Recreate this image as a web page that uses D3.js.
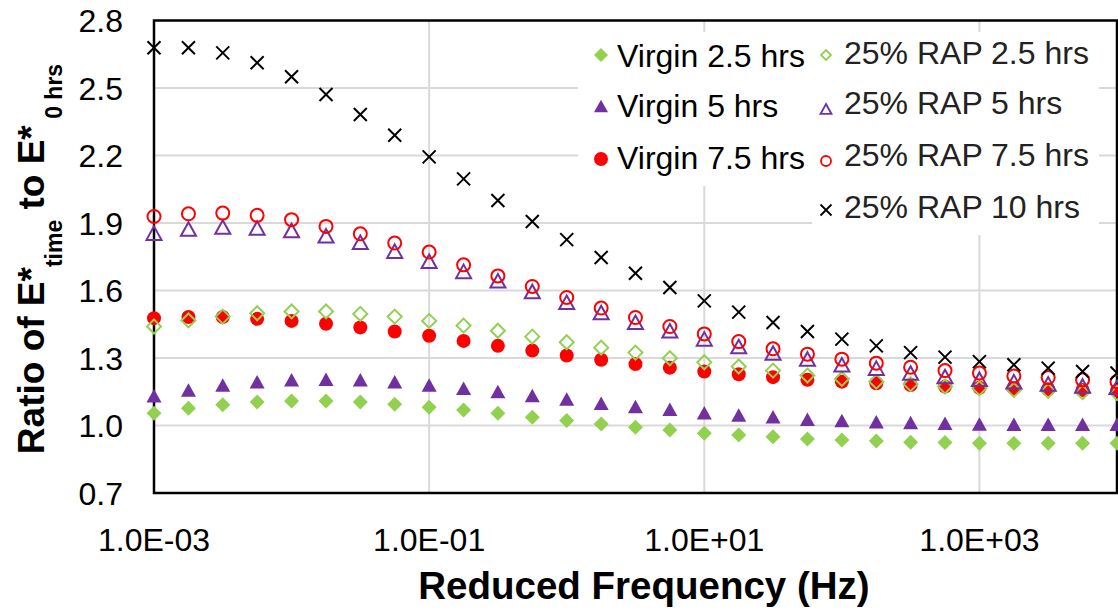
<!DOCTYPE html>
<html>
<head>
<meta charset="utf-8">
<script src="https://cdn.jsdelivr.net/npm/d3@7"></script>
<style>
  body { margin: 0; background: #fff; }
  text { font-family: "Liberation Sans", Arial, sans-serif; }
</style>
</head>
<body>
<svg id="chart"></svg>
<script>
// reduced frequency (Hz), quarter-decade steps
const freqs = [0.001, 0.00178, 0.00316, 0.00562, 0.01, 0.0178, 0.0316, 0.0562, 0.1, 0.178, 0.316, 0.562,
  1, 1.78, 3.16, 5.62, 10, 17.8, 31.6, 56.2, 100, 178, 316, 562, 1000, 1780, 3160, 5620, 10000];

const virgin25 = [1.055, 1.077, 1.092, 1.104, 1.109, 1.109, 1.104, 1.095, 1.081, 1.069, 1.055, 1.037, 1.022, 1.007,
  0.992, 0.980, 0.966, 0.958, 0.950, 0.940, 0.936, 0.931, 0.926, 0.924, 0.921, 0.921, 0.921, 0.921, 0.921];
const virgin5 = [1.132, 1.158, 1.180, 1.195, 1.203, 1.206, 1.203, 1.195, 1.180, 1.166, 1.151, 1.133, 1.118, 1.099,
  1.084, 1.072, 1.057, 1.047, 1.039, 1.028, 1.022, 1.017, 1.013, 1.010, 1.007, 1.006, 1.006, 1.006, 1.006];
const virgin75 = [1.477, 1.482, 1.482, 1.474, 1.465, 1.452, 1.436, 1.418, 1.399, 1.376, 1.354, 1.333, 1.311, 1.292,
  1.273, 1.257, 1.240, 1.228, 1.215, 1.203, 1.195, 1.188, 1.180, 1.173, 1.168, 1.166, 1.161, 1.158, 1.155];
const rap25 = [1.440, 1.467, 1.484, 1.499, 1.507, 1.507, 1.496, 1.484, 1.465, 1.444, 1.421, 1.395, 1.370, 1.346,
  1.324, 1.299, 1.281, 1.262, 1.244, 1.222, 1.207, 1.195, 1.184, 1.173, 1.166, 1.158, 1.154, 1.148, 1.144];
const rap5 = [1.855, 1.873, 1.882, 1.878, 1.867, 1.843, 1.814, 1.775, 1.730, 1.685, 1.643, 1.596, 1.548, 1.502,
  1.459, 1.421, 1.385, 1.351, 1.322, 1.296, 1.270, 1.255, 1.233, 1.218, 1.206, 1.195, 1.185, 1.176, 1.170];
const rap75 = [1.929, 1.941, 1.944, 1.934, 1.915, 1.885, 1.852, 1.811, 1.771, 1.714, 1.665, 1.618, 1.569, 1.522,
  1.480, 1.440, 1.407, 1.373, 1.341, 1.317, 1.295, 1.277, 1.259, 1.244, 1.233, 1.220, 1.213, 1.203, 1.195];
const rap10 = [2.679, 2.679, 2.656, 2.612, 2.550, 2.471, 2.382, 2.290, 2.194, 2.096, 2.000, 1.907, 1.826, 1.747,
  1.677, 1.613, 1.554, 1.504, 1.458, 1.418, 1.384, 1.354, 1.324, 1.304, 1.284, 1.270, 1.255, 1.240, 1.233];

const yTicks = [0.7, 1.0, 1.3, 1.6, 1.9, 2.2, 2.5, 2.8];
const xTicks = [0.001, 0.1, 10, 1000];
const xTickLabels = ["1.0E-03", "1.0E-01", "1.0E+01", "1.0E+03"];

const seriesNames = ["Virgin 2.5 hrs", "Virgin 5 hrs", "Virgin 7.5 hrs",
  "25% RAP 2.5 hrs", "25% RAP 5 hrs", "25% RAP 7.5 hrs", "25% RAP 10 hrs"];
const seriesValues = [virgin25, virgin5, virgin75, rap25, rap5, rap75, rap10];

const green = "#92D050", purple = "#7030A0", red = "#FF0000";

// marker shapes (size = half width)
const diamond = { draw(ctx, r) { ctx.moveTo(0, -r); ctx.lineTo(r, 0); ctx.lineTo(0, r); ctx.lineTo(-r, 0); ctx.closePath(); } };
const triangle = { draw(ctx, r) { const h = r * 0.9; ctx.moveTo(0, -h); ctx.lineTo(r, h); ctx.lineTo(-r, h); ctx.closePath(); } };
const circle = { draw(ctx, r) { ctx.moveTo(r, 0); ctx.arc(0, 0, r, 0, 2 * Math.PI); } };
const cross = { draw(ctx, r) { ctx.moveTo(-r, -r); ctx.lineTo(r, r); ctx.moveTo(r, -r); ctx.lineTo(-r, r); } };

const styles = [
  { type: diamond, r: 7.5, fill: green, stroke: "none", lr: 7 },
  { type: triangle, r: 7.5, fill: purple, stroke: "none", lr: 7 },
  { type: circle, r: 7, fill: red, stroke: "none", lr: 7 },
  { type: diamond, r: 7, fill: "none", stroke: green, lr: 5 },
  { type: triangle, r: 7.5, fill: "none", stroke: purple, lr: 5.5 },
  { type: circle, r: 6.5, fill: "none", stroke: red, lr: 5 },
  { type: cross, r: 6.5, fill: "none", stroke: "#000", lr: 5.5 }
];

const width = 1118, height = 613;
const svg = d3.select("#chart").attr("width", width).attr("height", height);

const x = d3.scaleLog().domain([0.001, 10000]).range([154, 1117]);
const y = d3.scaleLinear().domain([0.7, 2.8]).range([493, 20.5]);

// gridlines
svg.append("g")
  .selectAll("line")
  .data(yTicks.slice(1, -1))
  .join("line")
  .attr("x1", x.range()[0]).attr("x2", x.range()[1])
  .attr("y1", d => y(d)).attr("y2", d => y(d))
  .attr("stroke", "#d9d9d9").attr("stroke-width", 2);

svg.append("g")
  .selectAll("line")
  .data(xTicks.slice(1))
  .join("line")
  .attr("x1", d => x(d)).attr("x2", d => x(d))
  .attr("y1", y.range()[0]).attr("y2", y.range()[1])
  .attr("stroke", "#d9d9d9").attr("stroke-width", 2);

// plot border
svg.append("rect")
  .attr("x", x.range()[0]).attr("y", y.range()[1])
  .attr("width", x.range()[1] - x.range()[0])
  .attr("height", y.range()[0] - y.range()[1])
  .attr("fill", "none").attr("stroke", "#000").attr("stroke-width", 2.5);

// tick labels
svg.append("g")
  .selectAll("text")
  .data(yTicks)
  .join("text")
  .attr("x", 123).attr("y", d => y(d) + 11.5)
  .attr("text-anchor", "end")
  .style("font-size", "32px")
  .text(d => d.toFixed(1));

svg.append("g")
  .selectAll("text")
  .data(xTicks)
  .join("text")
  .attr("x", d => x(d)).attr("y", 551)
  .attr("text-anchor", "middle")
  .style("font-size", "32px")
  .text((d, i) => xTickLabels[i]);

// axis titles
svg.append("text")
  .attr("x", 644).attr("y", 599)
  .attr("text-anchor", "middle")
  .style("font-size", "38.5px").style("font-weight", "bold")
  .text("Reduced Frequency (Hz)");

const yTitle = svg.append("text")
  .attr("transform", "translate(44,259) rotate(-90)")
  .attr("text-anchor", "middle")
  .style("font-size", "37px").style("font-weight", "bold");
yTitle.append("tspan").text("Ratio of E*");
yTitle.append("tspan").attr("dy", 18).style("font-size", "23px").text("time");
yTitle.append("tspan").attr("dy", -18).text(" to E*");
yTitle.append("tspan").attr("dy", 18).style("font-size", "23px").text(" 0 hrs");

// legend backgrounds
svg.append("rect").attr("x", 578).attr("y", 32).attr("width", 240).attr("height", 154).attr("fill", "#fff");
svg.append("rect").attr("x", 812).attr("y", 32).attr("width", 287).attr("height", 203).attr("fill", "#fff");

// markers
seriesValues.forEach((vals, s) => {
  const st = styles[s];
  svg.append("g")
    .selectAll("path")
    .data(vals.map((v, i) => [freqs[i], v]))
    .join("path")
    .attr("transform", d => `translate(${x(d[0])},${y(d[1])})`)
    .attr("d", d3.symbol().type(st.type).size(st.r))
    .attr("fill", st.fill)
    .attr("stroke", st.stroke)
    .attr("stroke-width", 2);
});

// legend
const legendPos = [
  { mx: 601, my: 55, tx: 617, ty: 67 },
  { mx: 601, my: 106, tx: 617, ty: 117 },
  { mx: 601, my: 159, tx: 617, ty: 169 },
  { mx: 826, my: 55, tx: 844, ty: 64 },
  { mx: 826, my: 109, tx: 844, ty: 114 },
  { mx: 826, my: 161, tx: 844, ty: 166 },
  { mx: 826, my: 210, tx: 844, ty: 218 }
];

const legend = svg.append("g");
seriesNames.forEach((name, s) => {
  const st = styles[s], p = legendPos[s];
  legend.append("path")
    .attr("transform", `translate(${p.mx},${p.my})`)
    .attr("d", d3.symbol().type(st.type).size(st.lr))
    .attr("fill", st.fill)
    .attr("stroke", st.stroke)
    .attr("stroke-width", 1.8);
  legend.append("text")
    .attr("x", p.tx).attr("y", p.ty)
    .style("font-size", "32px")
    .attr("fill", s < 3 ? "#000" : "#222")
    .text(name);
});
</script>
</body>
</html>
